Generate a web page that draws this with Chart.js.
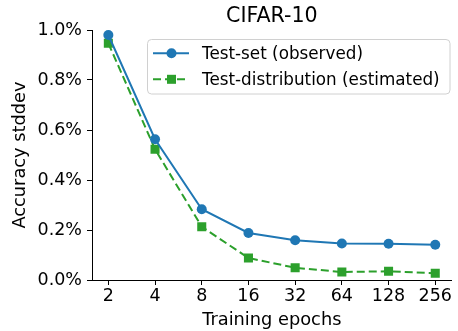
<!DOCTYPE html>
<html>
<head>
<meta charset="utf-8">
<script src="https://cdn.jsdelivr.net/npm/chart.js@4/dist/chart.umd.min.js"></script>
<style>
  html, body { margin: 0; padding: 0; background: #fff; }
  #wrap { width: 458px; height: 331px; }
</style>
</head>
<body>
<div id="wrap"><canvas id="stdChart"></canvas></div>
<script>
// Data (accuracy stddev in %)
const epochs = [2, 4, 8, 16, 32, 64, 128, 256];
const observed = [0.980, 0.563, 0.283, 0.188, 0.159, 0.146, 0.145, 0.141];
const estimated = [0.947, 0.523, 0.213, 0.088, 0.049, 0.032, 0.035, 0.027];
const yTicks = [0, 0.2, 0.4, 0.6, 0.8, 1.0];

const FONT = '"DejaVu Sans", sans-serif';

// Title centred over the plot area
const titlePlugin = {
    id: 'plotTitle',
    afterDraw(chart) {
        const ctx = chart.ctx, a = chart.chartArea;
        ctx.save();
        ctx.font = '20.6px ' + FONT;
        ctx.fillStyle = '#000';
        ctx.textAlign = 'center';
        ctx.textBaseline = 'alphabetic';
        ctx.fillText('CIFAR-10', (a.left + a.right) / 2, 21.8);
        ctx.restore();
    }
};

// matplotlib-style legend: line sample with marker in the middle
const legendPlugin = {
    id: 'mplLegend',
    afterDatasetsDraw(chart) {
        const ctx = chart.ctx;
        const x0 = 147.5, y0 = 39.5, w = 302.5, h = 54.5, r = 4;
        ctx.save();
        ctx.beginPath();
        ctx.roundRect(x0, y0, w, h, r);
        ctx.fillStyle = 'rgba(255,255,255,0.8)';
        ctx.fill();
        ctx.strokeStyle = '#d0d0d0';
        ctx.lineWidth = 1;
        ctx.stroke();

        chart.data.datasets.forEach((ds, i) => {
            const y = 53.3 + i * 26;
            ctx.strokeStyle = ds.borderColor;
            ctx.lineWidth = ds.borderWidth;
            ctx.setLineDash(ds.borderDash || []);
            ctx.beginPath();
            ctx.moveTo(153, y);
            ctx.lineTo(189, y);
            ctx.stroke();
            ctx.setLineDash([]);
            ctx.fillStyle = ds.pointBackgroundColor;
            if (ds.pointStyle === 'rect') {
                ctx.fillRect(171.5 - 4.5, y - 4.5, 9, 9);
            } else {
                ctx.beginPath();
                ctx.arc(171.5, y, 5, 0, Math.PI * 2);
                ctx.fill();
            }
            ctx.fillStyle = '#000';
            ctx.font = '16.8px ' + FONT;
            ctx.textAlign = 'left';
            ctx.textBaseline = 'alphabetic';
            ctx.fillText(ds.label, 202, y + 6);
        });
        ctx.restore();
    }
};

const ctx = document.getElementById('stdChart').getContext('2d');
const stdChart = new Chart(ctx, {
    type: 'line',
    data: {
        datasets: [{
            label: 'Test-set (observed)',
            data: epochs.map((e, i) => ({ x: e, y: observed[i] })),
            borderColor: '#1f77b4',
            backgroundColor: '#1f77b4',
            pointBackgroundColor: '#1f77b4',
            pointBorderWidth: 0,
            pointRadius: 5,
            pointStyle: 'circle',
            borderWidth: 2,
            tension: 0
        }, {
            label: 'Test-distribution (estimated)',
            data: epochs.map((e, i) => ({ x: e, y: estimated[i] })),
            borderColor: '#2ca02c',
            backgroundColor: '#2ca02c',
            pointBackgroundColor: '#2ca02c',
            pointBorderWidth: 0,
            pointRadius: 6.4,
            pointStyle: 'rect',
            borderWidth: 2,
            borderDash: [8, 4],
            tension: 0
        }]
    },
    options: {
        responsive: true,
        maintainAspectRatio: false,
        animation: false,
        devicePixelRatio: 1,
        layout: { padding: { top: 30, right: 0, left: 0, bottom: 0 } },
        plugins: {
            legend: { display: false },
            tooltip: { enabled: false }
        },
        scales: {
            x: {
                type: 'logarithmic',
                min: Math.pow(2, 0.65),
                max: Math.pow(2, 8.35),
                afterBuildTicks: (scale) => {
                    scale.ticks = epochs.map(v => ({ value: v }));
                },
                afterFit: (scale) => { scale.height = 51; },
                ticks: {
                    autoSkip: false,
                    maxRotation: 0,
                    color: '#000',
                    padding: 3,
                    font: { family: FONT, size: 17.5, lineHeight: 1.0 },
                    callback: (v) => String(v)
                },
                grid: { drawOnChartArea: false, drawTicks: true, tickLength: 5, color: '#000', tickWidth: 1 },
                border: { display: true, color: '#000', width: 1 },
                title: {
                    display: true,
                    text: 'Training epochs',
                    color: '#000',
                    font: { family: FONT, size: 17.8, lineHeight: 1.0 },
                    padding: { top: 0, bottom: 2 }
                }
            },
            y: {
                min: 0,
                max: 1.0,
                afterBuildTicks: (scale) => {
                    scale.ticks = yTicks.map(v => ({ value: v }));
                },
                afterFit: (scale) => { scale.width = 92; },
                ticks: {
                    color: '#000',
                    padding: 5,
                    font: { family: FONT, size: 17.5 },
                    callback: (v) => v.toFixed(1) + '%'
                },
                grid: { drawOnChartArea: false, drawTicks: true, tickLength: 5, color: '#000', tickWidth: 1 },
                border: { display: true, color: '#000', width: 1 },
                title: {
                    display: true,
                    text: 'Accuracy stddev',
                    color: '#000',
                    font: { family: FONT, size: 17.8, lineHeight: 1.0 },
                    padding: { top: 11, bottom: 0 }
                }
            }
        }
    },
    plugins: [titlePlugin, legendPlugin]
});
</script>
</body>
</html>
